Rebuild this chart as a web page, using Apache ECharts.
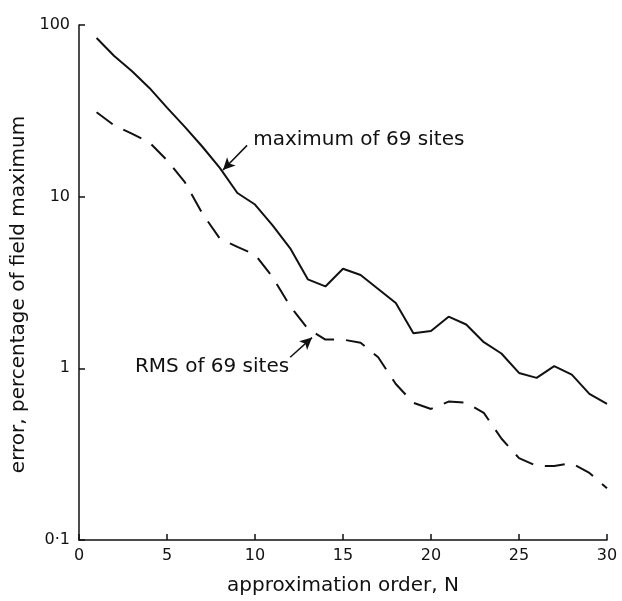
<!DOCTYPE html>
<html><head><meta charset="utf-8">
<script src="https://cdn.jsdelivr.net/npm/echarts@6/dist/echarts.min.js"></script>
<style>html,body{margin:0;padding:0;background:#fff}#c{width:622px;height:601px}</style>
</head><body><div id="c"></div>
<script>
var orders = [1,2,3,4,5,6,7,8,9,10,11,12,13,14,15,16,17,18,19,20,21,22,23,24,25,26,27,28,29,30];
var maxError = [84,66,54,43,33,25.6,19.6,14.7,10.5,9.0,6.8,5.0,3.3,3.0,3.8,3.5,2.9,2.4,1.6,1.65,2.0,1.8,1.42,1.22,0.94,0.88,1.03,0.92,0.71,0.62];
var rmsError = [31,26,23.3,20.7,16.3,12.2,8.0,5.7,5.1,4.6,3.4,2.3,1.7,1.47,1.47,1.41,1.16,0.81,0.63,0.58,0.64,0.63,0.55,0.39,0.30,0.27,0.27,0.28,0.246,0.20];
var xTicks = [0,5,10,15,20,25,30];
var yTicks = {0.1:'0·1',1:'1',10:'10',100:'100'};
var maxLabel = 'maximum of 69 sites';
var rmsLabel = 'RMS of 69 sites';
var maxLabelAt = [9.9, 21.5], maxArrow = [[9.55, 19.9],[8.18, 14.3]];
var rmsLabelAt = [3.18, 1.02], rmsArrow = [[12.0, 1.16],[13.24, 1.51]];

var FONT = 'DejaVu Sans';
var INK = '#111';
function pairs(xs, ys){ return xs.map(function(x,i){return [x, ys[i]];}); }

var chart = echarts.init(document.getElementById('c'));
chart.setOption({
  animation:false,
  backgroundColor:'#fff',
  textStyle:{fontFamily:FONT, color:INK},
  grid:{left:79, right:15, top:25, bottom:54},
  xAxis:{
    type:'value', min:0, max:30, interval:5,
    name:'approximation order, N', nameLocation:'middle', nameGap:36,
    nameTextStyle:{fontFamily:FONT, fontSize:20, color:INK},
    axisLine:{show:true, lineStyle:{color:INK, width:1.5}},
    axisTick:{show:true, inside:true, length:6, lineStyle:{color:INK, width:1.5}},
    axisLabel:{fontFamily:FONT, fontSize:16, color:INK, margin:8,
      formatter:function(v){ return xTicks.indexOf(v)>=0 ? String(v) : ''; }},
    splitLine:{show:false}
  },
  yAxis:{
    type:'log', logBase:10, min:0.1, max:100,
    name:'error, percentage of field maximum', nameLocation:'middle', nameGap:45,
    nameTextStyle:{fontFamily:FONT, fontSize:20, color:INK, padding:[0,24,0,0]},
    axisLine:{show:true, lineStyle:{color:INK, width:1.5}},
    axisTick:{show:true, inside:true, length:6, lineStyle:{color:INK, width:1.5}},
    axisLabel:{fontFamily:FONT, fontSize:16, color:INK, margin:9,
      formatter:function(v){ var k = Math.round(v*1000)/1000; return yTicks[k] !== undefined ? yTicks[k] : ''; }},
    splitLine:{show:false}
  },
  series:[
    {
      type:'line', data:pairs(orders, maxError), showSymbol:false, symbol:'none',
      lineStyle:{color:INK, width:2},
      markLine:{silent:true, symbol:['none','arrow'], symbolSize:[9,12],
        lineStyle:{color:INK, width:1.5, type:'solid'}, label:{show:false},
        data:[[{coord:maxArrow[0]},{coord:maxArrow[1]}]]},
      markPoint:{silent:true, symbol:'circle', symbolSize:0,
        data:[{coord:maxLabelAt, value:maxLabel}],
        label:{show:true, position:'right', distance:0, formatter:maxLabel, fontFamily:FONT, fontSize:20, color:INK}}
    },
    {
      type:'line', data:pairs(orders, rmsError), showSymbol:false, symbol:'none',
      lineStyle:{color:INK, width:2, type:[20,12]},
      markLine:{silent:true, symbol:['none','arrow'], symbolSize:[9,12],
        lineStyle:{color:INK, width:1.5, type:'solid'}, label:{show:false},
        data:[[{coord:rmsArrow[0]},{coord:rmsArrow[1]}]]},
      markPoint:{silent:true, symbol:'circle', symbolSize:0,
        data:[{coord:rmsLabelAt, value:rmsLabel}],
        label:{show:true, position:'right', distance:0, formatter:rmsLabel, fontFamily:FONT, fontSize:20, color:INK}}
    }
  ]
});
</script></body></html>
